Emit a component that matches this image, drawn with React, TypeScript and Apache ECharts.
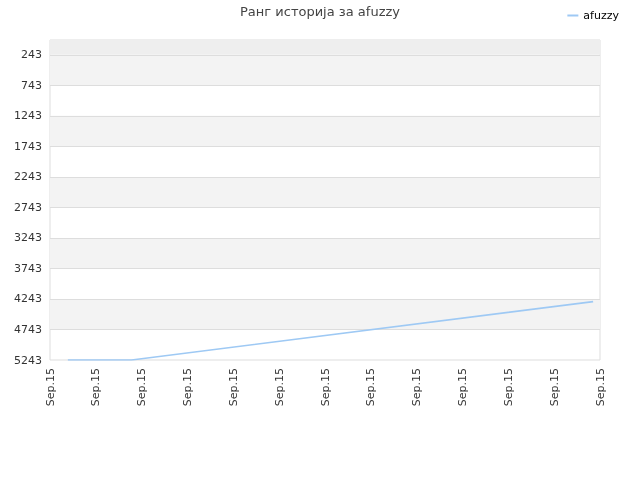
import React, { useEffect, useRef } from 'react';
import * as echarts from 'echarts';

const seriesName = 'afuzzy';
const xLabel = 'Sep.15';
// x positions in tick units (0..12), rank values
const pointX = [0.39, 1.78, 11.85];
const rankValues = [5243, 5243, 4287];
const yTicks = [243, 743, 1243, 1743, 2243, 2743, 3243, 3743, 4243, 4743, 5243];
const shadedBands: [number, number][] = [
  [243, 743],
  [1243, 1743],
  [2243, 2743],
  [3243, 3743],
  [4243, 4743],
];
const yMax = 5243;

const App: React.FC = () => {
  const chartRef = useRef<HTMLDivElement>(null);

  useEffect(() => {
    const chart = echarts.init(chartRef.current!, undefined, { renderer: 'svg' });

    const option = {
      animation: false,
      textStyle: { fontFamily: 'DejaVu Sans, sans-serif' },
      title: {
        text: 'Ранг историја за afuzzy',
        left: 'center',
        top: 5,
        padding: 0,
        textStyle: { fontSize: 13, fontWeight: 'normal', color: '#444' },
      },
      legend: {
        right: 16,
        top: 5,
        icon: 'rect',
        itemWidth: 11,
        itemHeight: 2,
        itemGap: 6,
        textStyle: { fontSize: 11, color: '#000' },
        data: [seriesName],
      },
      grid: {
        left: 50,
        right: 40,
        top: 40,
        bottom: 120,
        show: true,
        borderColor: '#dddddd',
        borderWidth: 1,
      },
      xAxis: {
        type: 'value',
        min: 0,
        max: 12,
        interval: 1,
        axisLine: { show: false },
        axisTick: { show: false },
        splitLine: { show: false },
        axisLabel: {
          rotate: 90,
          fontSize: 11,
          color: '#333',
          margin: 8,
          formatter: () => xLabel,
        },
      },
      yAxis: {
        type: 'value',
        inverse: true,
        min: 0,
        max: yMax,
        axisLine: { show: false },
        axisTick: { show: false },
        splitLine: { show: false },
        axisLabel: {
          customValues: yTicks,
          fontSize: 11,
          color: '#333',
          margin: 8,
          formatter: (v: number) => String(v),
        },
      },
      series: [
        {
          name: seriesName,
          type: 'line',
          data: pointX.map((x, i) => [x, rankValues[i]]),
          showSymbol: false,
          symbol: 'none',
          lineStyle: { color: '#9ec9f4', width: 1.6 },
          itemStyle: { color: '#9ec9f4' },
          z: 5,
          markArea: {
            silent: true,
            z: 0,
            data: [
              [{ yAxis: 0, itemStyle: { color: '#eeeeee' } }, { yAxis: yTicks[0] }],
              ...shadedBands.map(([a, b]) => [
                { yAxis: a, itemStyle: { color: '#f3f3f3' } },
                { yAxis: b },
              ]),
            ],
          },
          markLine: {
            silent: true,
            symbol: 'none',
            label: { show: false },
            lineStyle: { color: '#dddddd', width: 1, type: 'solid' },
            data: yTicks.slice(0, -1).map((v) => ({ yAxis: v })),
          },
        },
      ],
    };

    chart.setOption(option);

    return () => {
      chart.dispose();
    };
  }, []);

  return (
    <div
      ref={chartRef}
      style={{ position: 'fixed', left: 0, top: 0, width: '640px', height: '480px' }}
    />
  );
};

export default App;
